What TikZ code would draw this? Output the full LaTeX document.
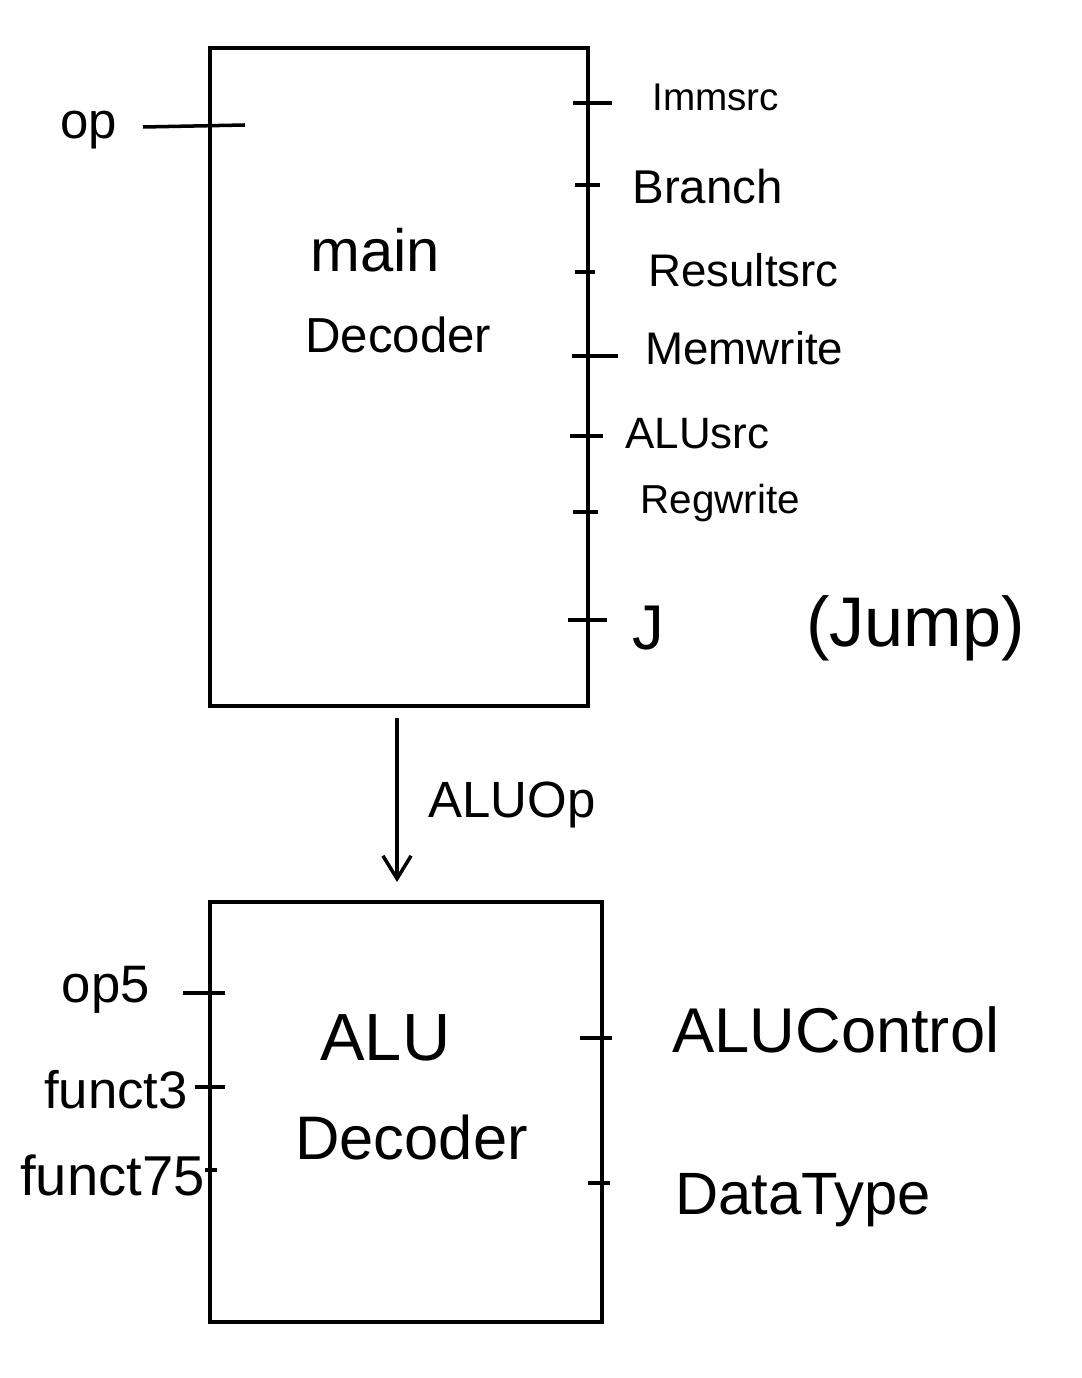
\documentclass[tikz,border=0pt]{standalone}
\usepackage{fontspec}
\setmainfont{Liberation Sans}
\usetikzlibrary{positioning}
\usetikzlibrary{arrows.meta}
\tikzstyle{block}=[draw, line width=2pt]
\tikzstyle{tick}=[line width=2pt]
\tikzstyle{signal}=[inner sep=0pt, font=\fontsize{21}{24}\selectfont]
\tikzstyle{bigsignal}=[inner sep=0pt, font=\fontsize{29}{32}\selectfont]
\tikzstyle{title}=[inner sep=0pt, anchor=west, font=\fontsize{28}{32}\selectfont]

\begin{document}
\begin{tikzpicture}[x=0.02cm, y=-0.02cm]

  \useasboundingbox (0,0) rectangle (1081,1378);

  % the two decoders
  \coordinate (main-nw) at (210,48);  \coordinate (main-se) at (588,706);
  \coordinate (alu-nw)  at (210,902); \coordinate (alu-se)  at (602,1322);
  \draw[block] (main-nw) rectangle (main-se);
  \draw[block] (alu-nw) rectangle (alu-se);

  \node[title, font=\fontsize{34}{36}\selectfont] (main) at (310,250) {main};
  \node[title] (maindec) at (305,335) {Decoder};
  \node[title, font=\fontsize{38}{40}\selectfont] (alu) at (320,1038) {ALU};
  \node[title, font=\fontsize{35}{38}\selectfont] (aludec) at (295,1138) {Decoder};

  % input of the main decoder
  \node[bigsignal, anchor=west] (op) at (60,130) {op};
  \coordinate (op-a) at (143,127); \coordinate (op-b) at (245,125);
  \draw[tick] (op-a) -- (op-b);

  % outputs of the main decoder
  \foreach \y/\xa/\xb/\lx/\ly/\name/\txt/\fs in {
      103/573/612/652/97/imm/Immsrc/22, 185/575/600/632/187/branch/Branch/27,
      272/575/595/648/270/result/Resultsrc/26, 356/572/618/645/348/mem/Memwrite/26,
      436/570/603/625/434/alusrc/ALUsrc/25, 512/573/598/640/503/reg/Regwrite/23,
      620/568/607/632/628/jmp/J/36}
  {
    \coordinate (\name-a) at (\xa,\y);
    \coordinate (\name-b) at (\xb,\y);
    \draw[tick] (\name-a) -- (\name-b);
    \node[signal, anchor=west, font=\fontsize{\fs}{30}\selectfont] (\name) at (\lx,\ly) {\txt};
  }
  \node[signal, anchor=west, font=\fontsize{40}{44}\selectfont] (jump) at (806,628) {(Jump)};

  % ALUOp from main to ALU decoder
  \coordinate (aluop-a) at (397,718); \coordinate (aluop-b) at (397,882);
  \draw[tick, -{Straight Barb[length=13pt, width=16pt]}] (aluop-a) -- (aluop-b);
  \node[bigsignal, anchor=west] (aluop) at (428,805) {ALUOp};

  % inputs of the ALU decoder
  \foreach \y/\xa/\xb/\lx/\ly/\name/\txt/\fs in {
      993/183/225/150/990/opfive/op5/30, 1087/195/225/188/1090/functthree/funct3/30,
      1170/205/217/205/1175/functseven/funct75/32}
  {
    \coordinate (\name-a) at (\xa,\y);
    \coordinate (\name-b) at (\xb,\y);
    \draw[tick] (\name-a) -- (\name-b);
    \node[signal, anchor=east, font=\fontsize{\fs}{34}\selectfont] (\name) at (\lx,\ly) {\txt};
  }

  % outputs of the ALU decoder
  \foreach \y/\xa/\xb/\lx/\ly/\name/\txt/\fs in {
      1038/580/612/672/1030/aluctrl/ALUControl/36, 1183/588/610/675/1200/dtype/DataType/34}
  {
    \coordinate (\name-a) at (\xa,\y);
    \coordinate (\name-b) at (\xb,\y);
    \draw[tick] (\name-a) -- (\name-b);
    \node[bigsignal, anchor=west, font=\fontsize{\fs}{38}\selectfont] (\name) at (\lx,\ly) {\txt};
  }

\end{tikzpicture}
\end{document}
